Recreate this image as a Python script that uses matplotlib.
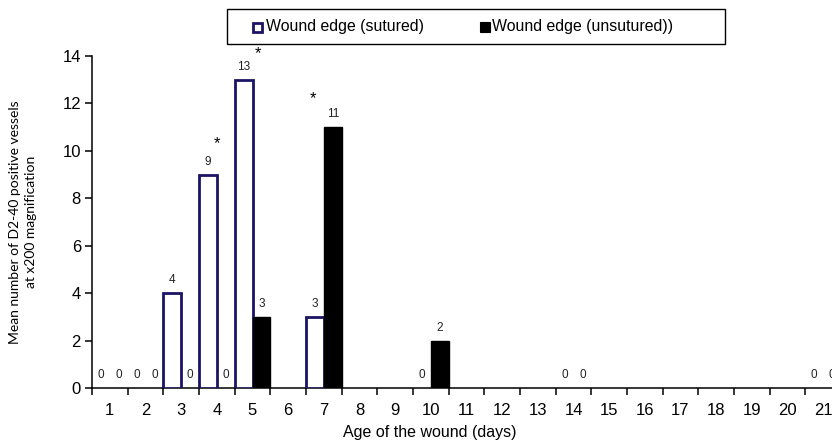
import numpy as np
import matplotlib
matplotlib.use("Agg")
import matplotlib.pyplot as plt
from matplotlib.patches import Rectangle

plt.rcParams['font.family'] = ['Liberation Sans', 'DejaVu Sans']

# data (nan = no value shown for that day)
days = list(range(1, 22))
nan = np.nan
sutured = [0, 0, 4, 9, 13, nan, 3, nan, nan, 0, nan, nan, nan, 0,
           nan, nan, nan, nan, nan, nan, 0]
unsutured = [0, 0, 0, 0, 3, nan, 11, nan, nan, 2, nan, nan, nan, 0,
             nan, nan, nan, nan, nan, nan, 0]
star_x = [4.0, 5.15, 6.7]
star_y = [10.3, 14.1, 12.2]
series_names = ["Wound edge (sutured)", "Wound edge (unsutured))"]
yticks = [0, 2, 4, 6, 8, 10, 12, 14]

navy = "#1b1464"
W, H = 832, 442
fig = plt.figure(figsize=(W / 100, H / 100), dpi=100)
ax = fig.add_axes([92 / W, (H - 388) / H, (841 - 92) / W, (388 - 56) / H])

x = np.array(days, dtype=float)
s = np.array(sutured, dtype=float)
u = np.array(unsutured, dtype=float)
bw = 0.5

ms = s > 0
ax.bar(x[ms] - bw / 2, s[ms], width=bw, facecolor="white", edgecolor=navy,
       linewidth=2.0, zorder=3)
mu = u > 0
ax.bar(x[mu] + bw / 2, u[mu], width=bw, facecolor="black", edgecolor="black",
       linewidth=1.0, zorder=3)

# value labels
for xi, v in zip(x, s):
    if not np.isnan(v):
        ax.text(xi - bw / 2, v + 0.55, "%d" % v, ha="center", va="center",
                fontsize=8.5, color="#222222", clip_on=False)
for xi, v in zip(x, u):
    if not np.isnan(v):
        ax.text(xi + bw / 2, v + 0.55, "%d" % v, ha="center", va="center",
                fontsize=8.5, color="#222222", clip_on=False)

for sx, sy in zip(star_x, star_y):
    ax.text(sx, sy, "*", ha="center", va="center", fontsize=12, clip_on=False)

ax.set_xlim(0.5, 21.5)
ax.set_ylim(0, 14)
ax.set_yticks(yticks)
ax.set_xticks(days)
ax.set_xticks(np.arange(0.5, 22, 1), minor=True)
ax.tick_params(axis="x", which="major", length=0, labelsize=12, pad=11)
ax.tick_params(axis="x", which="minor", length=5, width=1.1, direction="out")
ax.tick_params(axis="y", length=5, width=1.1, direction="out", labelsize=12, pad=3)
for sp in ["top", "right"]:
    ax.spines[sp].set_visible(False)
for sp in ["left", "bottom"]:
    ax.spines[sp].set_linewidth(1.1)

fig.text(430 / W, 1 - 432 / H, "Age of the wound (days)", ha="center",
         va="center", fontsize=11.5)
fig.text(23 / W, 1 - 222 / H,
         "Mean number of D2-40 positive vessels\nat x200 magnification",
         rotation=90, ha="center", va="center", fontsize=10,
         family=["Lato", "DejaVu Sans"], linespacing=1.45)

# legend box drawn in figure pixels
fig.patches.append(Rectangle((227 / W, 1 - 44 / H), (725 - 227) / W, 35 / H,
                             transform=fig.transFigure, facecolor="white",
                             edgecolor="black", linewidth=1.0))
fig.patches.append(Rectangle((253 / W, 1 - 32 / H), 9 / W, 9 / H,
                             transform=fig.transFigure, facecolor="white",
                             edgecolor=navy, linewidth=2.0))
fig.patches.append(Rectangle((480 / W, 1 - 32 / H), 10 / W, 10 / H,
                             transform=fig.transFigure, facecolor="black",
                             edgecolor="black", linewidth=0.8))
fig.text(266 / W, 1 - 27 / H, series_names[0], ha="left", va="center",
         fontsize=11.4)
fig.text(492 / W, 1 - 27 / H, series_names[1], ha="left", va="center",
         fontsize=11.4)

fig.savefig("out.png", dpi=100)
